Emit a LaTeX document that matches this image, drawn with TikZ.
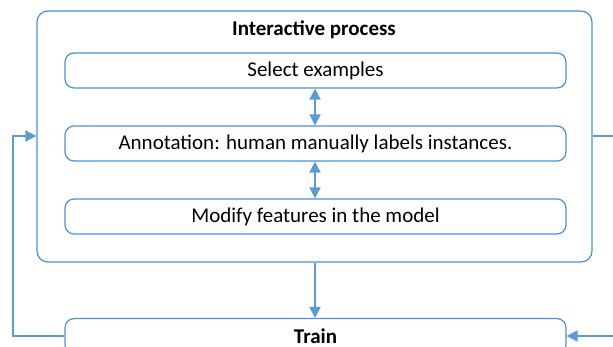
\documentclass[tikz,border=0pt]{standalone}
\usepackage{fontspec}
\setmainfont{Carlito}
\usetikzlibrary{arrows.meta}
\definecolor{boxblue}{HTML}{4A90D9}
\definecolor{arrblue}{HTML}{5B9BD5}
\begin{document}
\begin{tikzpicture}[x=1pt,y=-1pt,
  txt/.style={font=\fontsize{21}{24}\selectfont},
  btxt/.style={font=\fontsize{21}{24}\selectfont\bfseries},
  inner/.style={draw=boxblue,line width=1.2pt,rounded corners=9pt,minimum width=501pt,minimum height=35pt,inner sep=0pt,txt},
  outerbox/.style={draw=boxblue,line width=1.2pt,rounded corners=11pt,minimum width=555pt,minimum height=251pt,inner sep=0pt},
  conn/.style={draw=arrblue,line width=1.8pt},
  tip/.style={-{Triangle[width=11pt,length=11pt]}},
  dtip/.style={{Triangle[width=11pt,length=11pt]}-{Triangle[width=11pt,length=11pt]}}
]
\useasboundingbox (0,0) rectangle (613,347);
\clip (0,0) rectangle (613,347);
\node[outerbox] (outer) at (314.5,136.5) {};
\node[btxt] (title) at (314,30) {Interactive process};
\node[inner] (sel) at (315.5,70.5) {Select examples};
\node[inner] (ann) at (315.5,143.5) {Annotation: human manually labels instances.};
\node[inner] (mod) at (315.5,216.5) {Modify features in the model};
\node[inner,anchor=north] (train) at (315.5,318) {};
\node[btxt] (traint) at (315.5,336) {Train};
\coordinate (lc) at (13,136);
\coordinate (rc) at (614,136);
\coordinate (rb) at (614,336);
\draw[conn,dtip] (sel.south -| 315,0) -- (ann.north -| 315,0);
\draw[conn,dtip] (ann.south -| 315,0) -- (mod.north -| 315,0);
\draw[conn,tip] (outer.south -| 315,0) -- (train.north -| 315,0);
\draw[conn,tip] (train.west |- 0,336) -| (lc) -- (outer.west |- lc);
\draw[conn] (outer.east |- rc) -- (rc);
\draw[conn,tip] (rb) -- (train.east |- rb);
\end{tikzpicture}
\end{document}
